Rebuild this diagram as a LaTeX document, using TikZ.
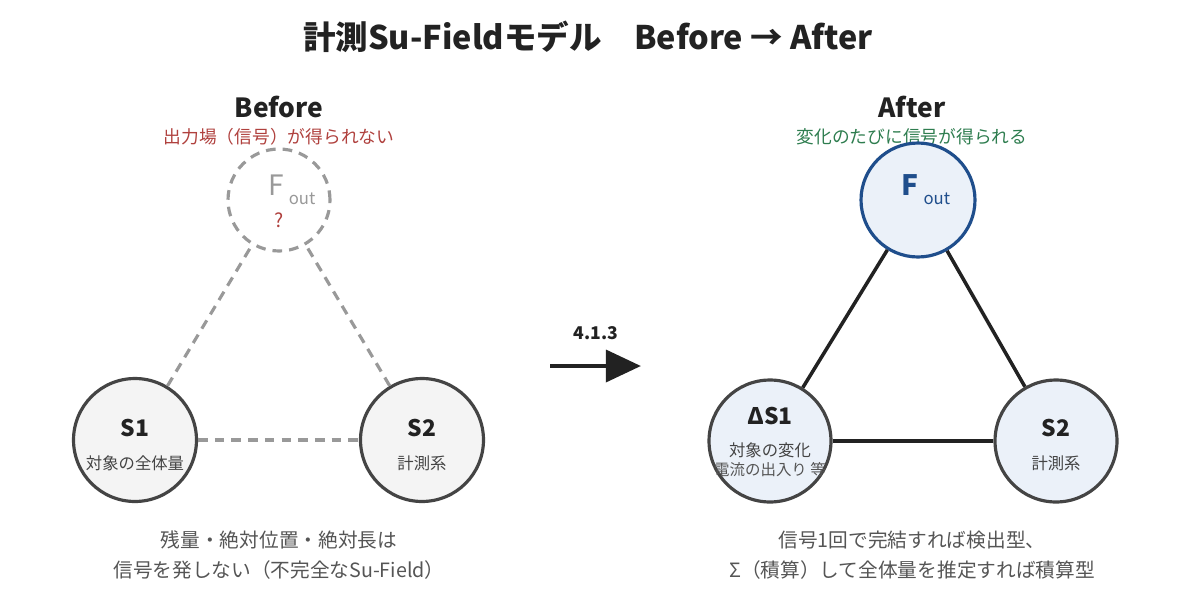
\documentclass[tikz,border=0pt]{standalone}
\usepackage{fontspec}
\setmainfont{Noto Sans CJK JP}
\usetikzlibrary{arrows.meta}
\definecolor{ink}{HTML}{222222}
\definecolor{edge}{HTML}{444444}
\definecolor{ghostgray}{HTML}{999999}
\definecolor{ballgray}{HTML}{F4F4F4}
\definecolor{ballblue}{HTML}{EBF1F9}
\definecolor{fblue}{HTML}{1F4E8C}
\definecolor{badred}{HTML}{B0413E}
\definecolor{goodgreen}{HTML}{2E7D4F}
\definecolor{note}{HTML}{555555}
\tikzset{
  ball/.style={circle, draw=edge, line width=1.8pt, fill=ballgray, inner sep=0pt, minimum size=2.46cm},
  ghost/.style={circle, draw=ghostgray, line width=1.8pt, dash pattern=on 5.5pt off 4pt, inner sep=0pt, minimum size=2.04cm},
  dashline/.style={draw=ghostgray, line width=1.8pt, dash pattern=on 5.5pt off 4pt},
  solidline/.style={draw=ink, line width=2pt},
  headtext/.style={font=\bfseries\fontsize{15}{18}\selectfont, text=ink},
  subtext/.style={font=\fontsize{10.1}{12}\selectfont},
  balltitle/.style={font=\bfseries\fontsize{13}{15}\selectfont, text=ink},
  balltext/.style={font=\fontsize{9.3}{11}\selectfont, text=edge},
  foottext/.style={font=\fontsize{11.2}{13}\selectfont, text=note}
}
\begin{document}
\begin{tikzpicture}[x=0.02cm, y=-0.02cm]
  \fill[white] (0,0) rectangle (1200,592);
  \useasboundingbox (0,0) rectangle (1200,592);
  % title
  \node[font=\bfseries\fontsize{18.5}{22}\selectfont, text=ink] (title) at (588,37) {計測Su-Fieldモデル　Before → After};

  % before
  \node[headtext] (before) at (279,107) {Before};
  \node[subtext, text=badred] (beforesub) at (279,137) {出力場（信号）が得られない};
  \node[ghost] (foutB) at (279,200) {};
  \node[ball] (s1B) at (135,440) {};
  \node[ball] (s2B) at (422,440) {};
  \draw[dashline] (s1B) -- (foutB);
  \draw[dashline] (s2B) -- (foutB);
  \draw[dashline] (s1B) -- (s2B);
  \node[text=ghostgray, font=\fontsize{16}{18}\selectfont] (fB) at (292,190) {F\,\raisebox{-5pt}{\fontsize{9.5}{10}\selectfont out}};
  \node[text=badred, font=\fontsize{11}{12}\selectfont] (qB) at (279,220) {?};
  \node[balltitle] (s1Bname) at (135,428) {S1};
  \node[balltext] (s1Btext) at (135,463) {対象の全体量};
  \node[balltitle] (s2Bname) at (422,428) {S2};
  \node[balltext] (s2Btext) at (422,463) {計測系};
  \node[foottext] (beforenote1) at (279,540) {残量・絶対位置・絶対長は};
  \node[foottext] (beforenote2) at (279,570) {信号を発しない（不完全なSu-Field）};

  % arrow
  \coordinate (arrS) at (550,366);
  \coordinate (arrE) at (641,366);
  \draw[ink, line width=2.8pt, -{Triangle[length=20pt, width=18pt]}] (arrS) -- (arrE);
  \node[font=\bfseries\fontsize{10}{12}\selectfont, text=ink] (step413) at (596,333) {4.1.3};

  % after
  \node[headtext] (after) at (912,107) {After};
  \node[subtext, text=goodgreen] (aftersub) at (912,137) {変化のたびに信号が得られる};
  \node[ball, draw=fblue, fill=ballblue, minimum size=2.28cm] (foutA) at (918,200) {};
  \node[ball, fill=ballblue, minimum size=2.44cm] (ds1A) at (770,441) {};
  \node[ball, fill=ballblue, minimum size=2.44cm] (s2A) at (1056,441) {};
  \draw[solidline] (ds1A) -- (foutA);
  \draw[solidline] (s2A) -- (foutA);
  \draw[solidline] (ds1A) -- (s2A);
  \node[text=fblue, font=\bfseries\fontsize{16}{18}\selectfont] (fA) at (926,190) {F\,\raisebox{-5pt}{\mdseries\fontsize{9.5}{10}\selectfont out}};
  \node[balltitle] (ds1Aname) at (770,416) {ΔS1};
  \node[balltext] (ds1Atext) at (770,450) {対象の変化};
  \node[balltext, text=note, font=\fontsize{8.8}{10}\selectfont] (ds1Anote) at (770,470) {電流の出入り 等};
  \node[balltitle] (s2Aname) at (1056,428) {S2};
  \node[balltext] (s2Atext) at (1056,463) {計測系};
  \node[foottext] (afternote1) at (912,540) {信号1回で完結すれば検出型、};
  \node[foottext] (afternote2) at (912,570) {Σ（積算）して全体量を推定すれば積算型};
\end{tikzpicture}
\end{document}
